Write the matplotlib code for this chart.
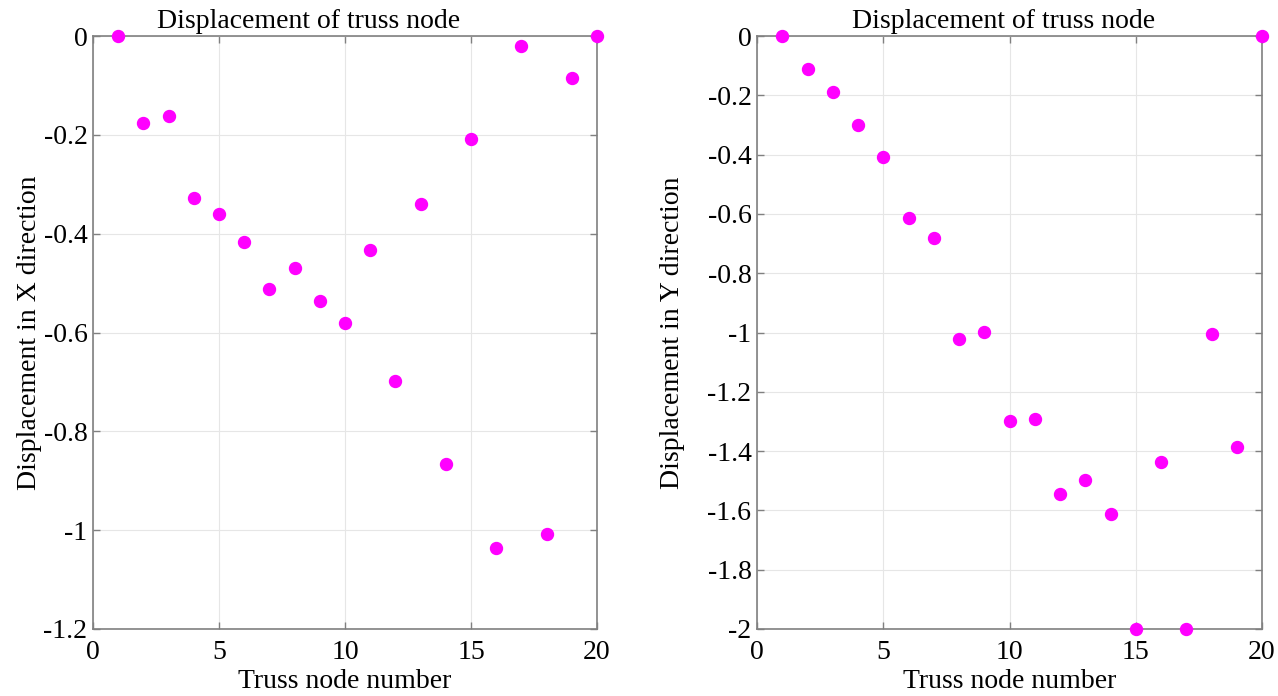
import matplotlib
matplotlib.use("Agg")
import matplotlib.pyplot as plt
import numpy as np

nodes = list(range(1, 21))
disp_x = [0.0, -0.176, -0.162, -0.328, -0.360, -0.417, -0.512, -0.470, -0.536, -0.581,
          -0.433, -0.698, -0.340, -0.866, -0.208, -1.036, -0.020, -1.008, -0.085, 0.0]
disp_y = [0.0, -0.111, -0.189, -0.300, -0.408, -0.614, -0.681, -1.022, -0.998, -1.298,
          -1.292, -1.545, -1.497, -1.612, -2.0, -1.437, -2.0, -1.005, -1.386, 0.0]

x_ticks = [0, 5, 10, 15, 20]
yx_ticks = [0, -0.2, -0.4, -0.6, -0.8, -1, -1.2]
yy_ticks = [0, -0.2, -0.4, -0.6, -0.8, -1, -1.2, -1.4, -1.6, -1.8, -2]

plt.rcParams['font.family'] = ['Liberation Serif', 'DejaVu Serif']
FS = 20

fig = plt.figure(figsize=(12.78, 6.96), dpi=100)
ax1 = fig.add_axes([93/1278, 1-629/696, (597-93)/1278, (629-36)/696])
ax2 = fig.add_axes([757/1278, 1-629/696, (1262-757)/1278, (629-36)/696])

def style(ax, yticks, ylim, ylabel, data, ylpad, tx):
    ax.plot(nodes, data, 'o', color='#ff00ff', markersize=8.6, clip_on=False, zorder=5)
    ax.set_xlim(0, 20)
    ax.set_ylim(ylim, 0)
    ax.set_xticks(x_ticks)
    ax.set_xticklabels([str(t) for t in x_ticks])
    ax.set_yticks(yticks)
    ax.set_yticklabels([f"{t:g}" for t in yticks])
    ax.grid(True, color='#e6e6e6', linewidth=0.8)
    ax.set_axisbelow(True)
    for sp in ax.spines.values():
        sp.set_color('#808080')
        sp.set_linewidth(1.2)
    ax.tick_params(direction='in', length=5, width=1, color='#808080',
                   top=True, right=True, labelsize=FS, labelcolor='black')
    ax.tick_params(axis='x', pad=8)
    ax.tick_params(axis='y', pad=4)
    ax.set_xlabel('Truss node number', fontsize=FS, labelpad=3)
    ax.set_ylabel(ylabel, fontsize=FS, labelpad=ylpad)
    ax.set_title('Displacement of truss node', fontsize=FS, pad=6, x=tx)

style(ax1, yx_ticks, -1.2, 'Displacement in X direction', disp_x, 1, 0.427)
style(ax2, yy_ticks, -2.0, 'Displacement in Y direction', disp_y, 16, 0.489)

fig.savefig('out.png', dpi=100)
